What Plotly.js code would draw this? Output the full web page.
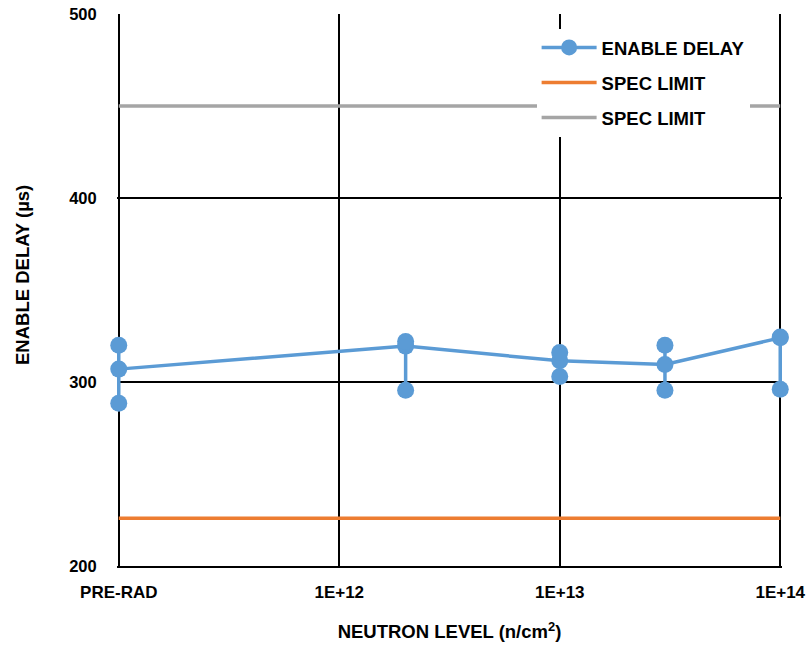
<!DOCTYPE html>
<html><head><meta charset="utf-8">
<script src="https://cdn.plot.ly/plotly-3.0.1.min.js"></script>
<style>html,body{margin:0;padding:0;background:#fff}</style>
</head><body><div id="chart" style="width:808px;height:646px"></div>
<script>
const levels = [1e11, 2e12, 1e13, 3e13, 1e14];
const tickVals = [1e11, 1e12, 1e13, 1e14];
const tickLabels = ['PRE-RAD', '1E+12', '1E+13', '1E+14'];
const delayMean = [307, 319.5, 311.5, 309.5, 324];
const delayMax = [320, 322, 316, 320, 324.5];
const delayMin = [288.5, 295.5, 303, 295.5, 296];
const specLow = 226;
const specHigh = 450;
const xSpan = [1e11, 1e14];

const BLUE = '#5B9BD5', ORANGE = '#ED7D31', GRAY = '#A5A5A5';
const FONT = 'Liberation Sans, Arial, sans-serif';

const rx = [], ry = [];
levels.forEach((lv, i) => { rx.push(lv, lv); ry.push(delayMin[i], delayMax[i]); });
const errUp = delayMax.map((v, i) => v - delayMean[i]);
const errDown = delayMin.map((v, i) => delayMean[i] - v);

const traces = [
  {x: levels, y: delayMean, name: 'ENABLE DELAY', legendgroup: 'a', mode: 'lines+markers',
   cliponaxis: false, line: {color: BLUE, width: 3.5}, marker: {color: BLUE, size: 17},
   error_y: {type: 'data', symmetric: false, array: errUp, arrayminus: errDown,
     color: BLUE, thickness: 3.5, width: 0}},
  {x: xSpan, y: [specLow, specLow], name: 'SPEC LIMIT', legendgroup: 'b', mode: 'lines',
   line: {color: ORANGE, width: 3.5}},
  {x: xSpan, y: [specHigh, specHigh], name: 'SPEC LIMIT', legendgroup: 'c', mode: 'lines',
   line: {color: GRAY, width: 3.5}},
  {x: rx, y: ry, mode: 'markers', showlegend: false, cliponaxis: false,
   marker: {color: BLUE, size: 17}}
];

const layout = {
  width: 808, height: 646,
  margin: {l: 117, r: 26, t: 14, b: 80, pad: 0},
  paper_bgcolor: '#fff', plot_bgcolor: '#fff',
  font: {family: FONT, color: '#000', size: 16, weight: 700},
  showlegend: true,
  legend: {x: 0.631, y: 0.973, xanchor: 'left', yanchor: 'top', bgcolor: '#fff',
    font: {family: FONT, size: 18.5, color: '#000', weight: 700},
    itemwidth: 55, tracegroupgap: 8},
  xaxis: {type: 'log', range: [10.992, 14.008], tickvals: tickVals, ticktext: tickLabels,
    layer: 'below traces',
    showgrid: true, gridcolor: '#000', gridwidth: 2,
    showline: true, linecolor: '#000', linewidth: 2, zeroline: false,
    ticks: 'outside', ticklen: 10, tickcolor: 'rgba(0,0,0,0)',
    tickfont: {family: FONT, size: 17, color: '#000', weight: 700},
    title: {text: 'NEUTRON LEVEL (n/cm<sup>2</sup>)', standoff: 24,
      font: {family: FONT, size: 18.5, color: '#000', weight: 700}}},
  yaxis: {range: [200, 500], dtick: 100, tick0: 200,
    layer: 'below traces',
    showgrid: true, gridcolor: '#000', gridwidth: 2,
    showline: false, zeroline: false,
    ticks: 'outside', ticklen: 16, tickcolor: 'rgba(0,0,0,0)',
    tickfont: {family: FONT, size: 16.5, color: '#000', weight: 700}},
  annotations: [{text: 'ENABLE DELAY (µs)', textangle: -90, xref: 'paper', yref: 'paper',
    x: -0.143, y: 0.527, xanchor: 'center', yanchor: 'middle', showarrow: false,
    font: {family: FONT, size: 18.5, color: '#000', weight: 700}}]
};

Plotly.newPlot('chart', traces, layout, {displayModeBar: false, staticPlot: true});
</script></body></html>
